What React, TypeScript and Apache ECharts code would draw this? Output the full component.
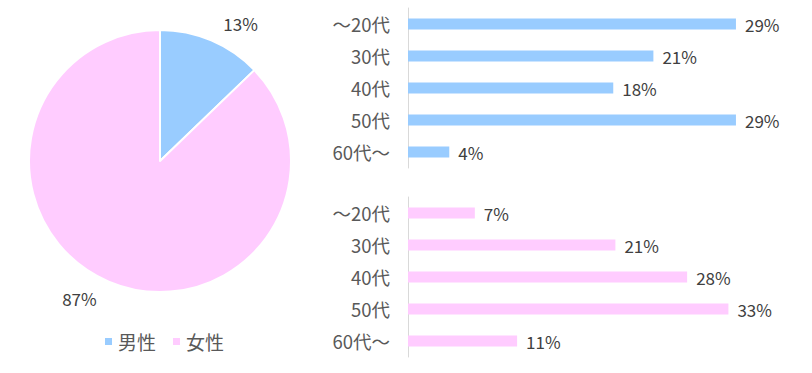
import React, { useEffect, useRef } from "react";
import * as echarts from "echarts";

const genders = ["男性", "女性"];
const genderShare = [12.8, 87.2];
const ageGroups = ["～20代", "30代", "40代", "50代", "60代～"];
const maleAges = [28.6, 21.4, 17.9, 28.6, 3.6];
const femaleAges = [6.8, 21.1, 28.4, 32.6, 11.1];
const colors = ["#99CCFF", "#FFCCFF"];

const FONT = "'Noto Sans CJK JP', 'Noto Sans', sans-serif";

export default function App() {
  const ref = useRef<HTMLDivElement>(null);
  useEffect(() => {
    if (!ref.current) return;
    const chart = echarts.init(ref.current, undefined, { renderer: "svg" });
    const pctLabel = (p: any) => Math.round(p.value) + "%";
    const barBase = (idx: number, data: number[], color: string) => ({
      type: "bar",
      xAxisIndex: idx,
      yAxisIndex: idx,
      data,
      barWidth: 11,
      itemStyle: { color },
      label: {
        show: true,
        position: "right",
        distance: 9,
        formatter: pctLabel,
        color: "#404040",
        fontSize: 17,
        fontFamily: FONT,
      },
      silent: true,
    });
    const yAxis = (idx: number) => ({
      type: "category",
      gridIndex: idx,
      data: ageGroups,
      inverse: true,
      axisTick: { show: false },
      axisLine: { show: true, lineStyle: { color: "#D9D9D9", width: 1 } },
      axisLabel: { color: "#595959", fontSize: 18.5, fontFamily: FONT, margin: 18 },
    });
    const xAxis = (idx: number, max: number) => ({
      type: "value",
      gridIndex: idx,
      min: 0,
      max,
      show: false,
      splitLine: { show: false },
    });
    chart.setOption({
      animation: false,
      backgroundColor: "#fff",
      textStyle: { fontFamily: FONT },
      legend: {
        data: genders,
        left: 98,
        top: 327,
        itemWidth: 9,
        itemHeight: 9,
        itemGap: 15,
        icon: "rect",
        textStyle: { color: "#595959", fontSize: 19, fontFamily: FONT },
      },
      grid: [
        { left: 408, right: 60, top: 8, height: 160, containLabel: false },
        { left: 408, right: 60, top: 197, height: 160, containLabel: false },
      ],
      xAxis: [xAxis(0, 30), xAxis(1, 35)],
      yAxis: [yAxis(0), yAxis(1)],
      series: [
        {
          type: "pie",
          center: [160, 161],
          radius: 131,
          startAngle: 90,
          clockwise: true,
          silent: true,
          data: genders.map((name, i) => ({
            name,
            value: genderShare[i],
            itemStyle: { color: colors[i] },
          })),
          itemStyle: { borderColor: "#fff", borderWidth: 2 },
          label: {
            show: true,
            position: "outside",
            formatter: pctLabel,
            color: "#404040",
            fontSize: 17,
            fontFamily: FONT,
          },
          labelLine: { show: false, length: 18, length2: 0 },
        },
        barBase(0, maleAges, colors[0]),
        barBase(1, femaleAges, colors[1]),
      ],
    });
    return () => chart.dispose();
  }, []);
  return <div ref={ref} style={{ width: 812, height: 373, position: "absolute", left: 0, top: 0 }} />;
}
